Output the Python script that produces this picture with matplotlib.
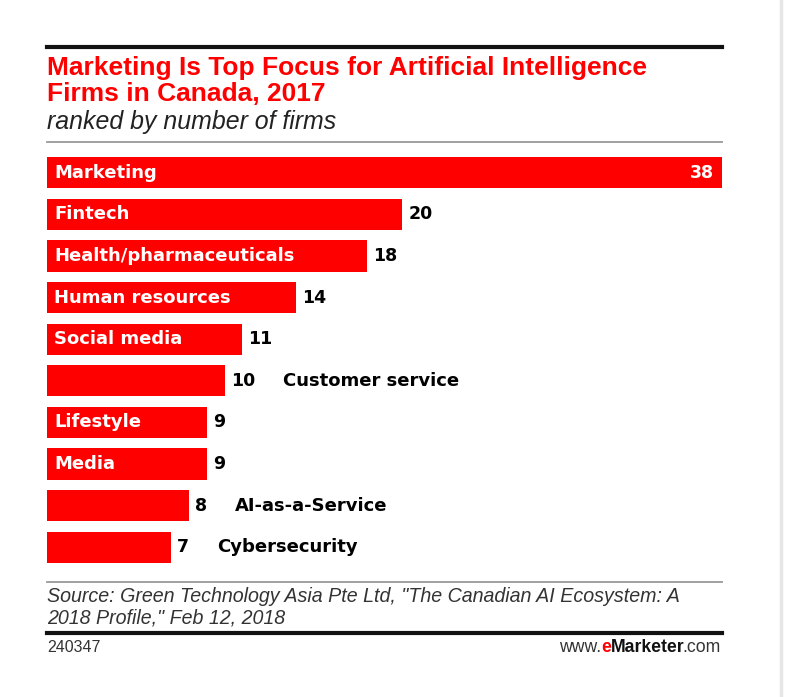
import matplotlib
matplotlib.use("Agg")
import matplotlib.pyplot as plt
from matplotlib.lines import Line2D
from matplotlib.transforms import ScaledTranslation

categorias = ["Marketing", "Fintech", "Health/pharmaceuticals", "Human resources",
              "Social media", "Customer service", "Lifestyle", "Media",
              "AI-as-a-Service", "Cybersecurity"]
firmas = [38, 20, 18, 14, 11, 10, 9, 9, 8, 7]

W, H = 785, 697
ROJO = "#ff0000"
ARIAL = ["Liberation Sans", "DejaVu Sans"]
NEGRITA = ["DejaVu Sans"]


def fy(y):
    return 1 - y / H


def fx(x):
    return x / W


fig = plt.figure(figsize=(W / 100, H / 100), dpi=100)


# lineas horizontales del marco
def linea(y, color, lw, x0=47, x1=722):
    fig.add_artist(Line2D([fx(x0), fx(x1)], [fy(y), fy(y)], color=color,
                          linewidth=lw, transform=fig.transFigure))


linea(47, "#111111", 3.0)
linea(142, "#999999", 1.3)
linea(582, "#999999", 1.3)
linea(633, "#111111", 3.0)
# borde gris a la derecha
fig.add_artist(Line2D([fx(781), fx(781)], [0, 1], color="#e6e6e6",
                      linewidth=2.5, transform=fig.transFigure))

fig.text(fx(47), fy(68), "Marketing Is Top Focus for Artificial Intelligence",
         color=ROJO, fontsize=19, fontweight="bold", family=ARIAL, va="center")
fig.text(fx(47), fy(94), "Firms in Canada, 2017",
         color=ROJO, fontsize=19, fontweight="bold", family=ARIAL, va="center")
fig.text(fx(47), fy(122), "ranked by number of firms",
         color="#222222", fontsize=17.9, style="italic", family=ARIAL, va="center")

fig.text(fx(47), fy(597), 'Source: Green Technology Asia Pte Ltd, "The Canadian AI Ecosystem: A',
         color="#333333", fontsize=14.1, style="italic", family=ARIAL, va="center")
fig.text(fx(47), fy(618), '2018 Profile," Feb 12, 2018',
         color="#333333", fontsize=14.1, style="italic", family=ARIAL, va="center")
fig.text(fx(47), fy(647), "240347", color="#333333", fontsize=11.5,
         family=ARIAL, va="center")
t_com = fig.text(fx(721), fy(647), ".com", color="#333333", fontsize=12.7,
                 family=ARIAL, va="center", ha="right")

# barras
ax = fig.add_axes([fx(47), fy(568), fx(722) - fx(47), (568 - 152) / H])
ys = list(range(len(categorias)))
ax.barh(ys, firmas, height=0.75, color=ROJO)
ax.set_xlim(0, max(firmas))
ax.set_ylim(len(categorias) - 0.5, -0.5)
ax.axis("off")

fig.canvas.draw()
renderer = fig.canvas.get_renderer()
px_por_unidad = ax.transData.transform((1, 0))[0] - ax.transData.transform((0, 0))[0]

for y, cat, v in zip(ys, categorias, firmas):
    t = ax.text(0, y, cat, color="white", fontsize=13, fontweight="bold",
                family=NEGRITA, va="center", ha="left",
                transform=ax.transData + ScaledTranslation(7 / 100, 0, fig.dpi_scale_trans))
    ancho = t.get_window_extent(renderer).width
    if v == max(firmas):
        ax.annotate(str(v), (v, y), xytext=(-8, 0), textcoords="offset pixels",
                    color="white", fontsize=12.5, fontweight="bold", family=NEGRITA,
                    va="center", ha="right")
        continue
    tv = ax.annotate(str(v), (v, y), xytext=(6, 0), textcoords="offset pixels",
                     color="black", fontsize=12.5, fontweight="bold", family=NEGRITA,
                     va="center", ha="left")
    if ancho + 14 > v * px_por_unidad:
        t.set_visible(False)
        av = tv.get_window_extent(renderer).width
        ax.annotate(cat, (v, y), xytext=(6 + av + 28, 0), textcoords="offset pixels",
                    color="black", fontsize=13, fontweight="bold", family=NEGRITA,
                    va="center", ha="left")

# logo www.eMarketer.com
fig.canvas.draw()
bb = t_com.get_window_extent(renderer)
t_mk = fig.text((bb.x0 + 2) / W, fy(647), "Marketer", color="#111111", fontsize=12.7,
                fontweight="bold", family=ARIAL, va="center", ha="right")
fig.canvas.draw()
bb = t_mk.get_window_extent(renderer)
t_e = fig.text(bb.x0 / W, fy(647), "e", color=ROJO, fontsize=12.7,
               fontweight="bold", family=ARIAL, va="center", ha="right")
fig.canvas.draw()
bb = t_e.get_window_extent(renderer)
fig.text(bb.x0 / W, fy(647), "www.", color="#333333", fontsize=12.7,
         family=ARIAL, va="center", ha="right")

fig.savefig("out.png", dpi=100)
